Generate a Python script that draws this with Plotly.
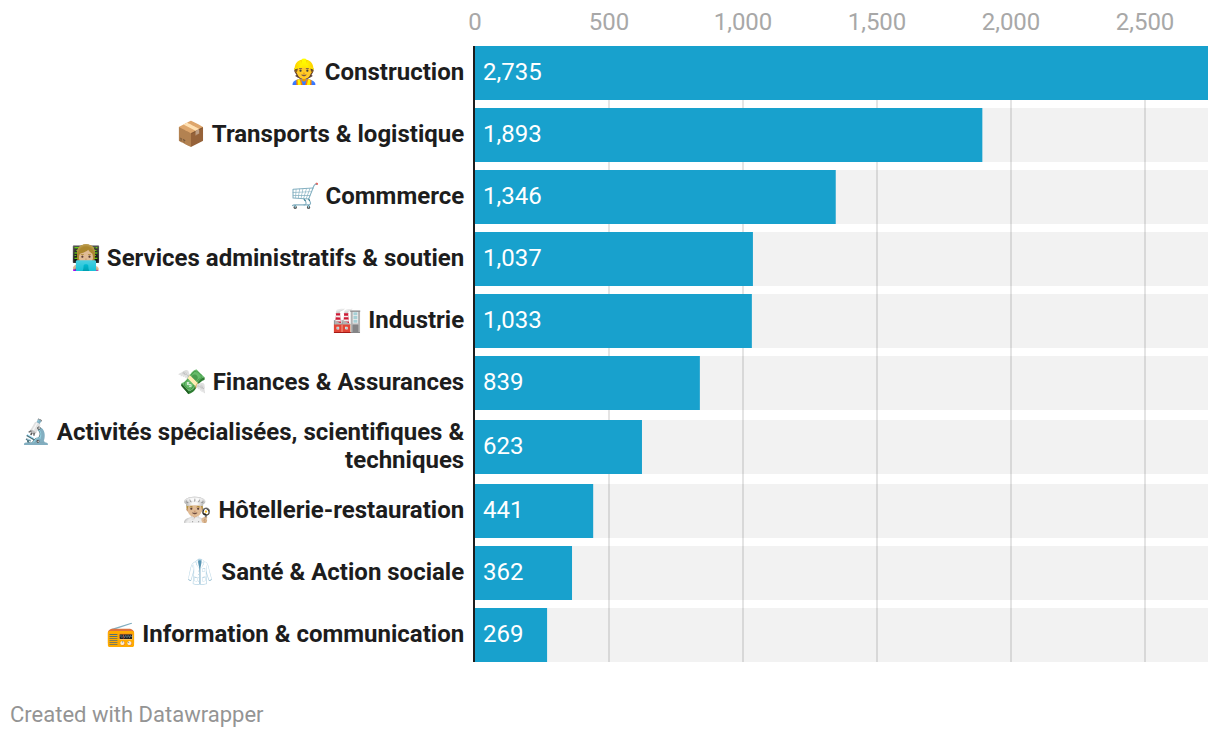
import plotly.graph_objects as go

category_lines = [["👷 Construction"], ["📦 Transports & logistique"], ["🛒 Commmerce"],
                  ["👩🏼‍💻 Services administratifs & soutien"], ["🏭 Industrie"],
                  ["💸 Finances & Assurances"],
                  ["🔬 Activités spécialisées, scientifiques &", "techniques"],
                  ["👨🏼‍🍳 Hôtellerie-restauration"], ["🥼 Santé & Action sociale"],
                  ["📻 Information & communication"]]
values = [2735, 1893, 1346, 1037, 1033, 839, 623, 441, 362, 269]
value_labels = ["2,735", "1,893", "1,346", "1,037", "1,033", "839", "623", "441", "362", "269"]
x_ticks = [0, 500, 1000, 1500, 2000, 2500]
x_tick_labels = ["0", "500", "1,000", "1,500", "2,000", "2,500"]

BLUE = "#18a1cd"
FONT = "Roboto"
PITCH = 62
BAR = 54
WRAP_EXTRA = 2
LINE_GAP = 28

# row centres, in pixels from the top; a wrapped label adds room on both sides
rows = []
tick_pos = []
tick_text = []
pos = BAR / 2
for lines in category_lines:
    wrapped = len(lines) > 1
    if wrapped:
        pos += WRAP_EXTRA
    rows.append(pos)
    for j, line in enumerate(lines):
        tick_pos.append(pos + (j - (len(lines) - 1) / 2) * LINE_GAP)
        tick_text.append(line)
    pos += PITCH
    if wrapped:
        pos += WRAP_EXTRA

max_value = max(values)
fig = go.Figure()
fig.add_bar(y=rows, x=[max_value] * len(values), orientation="h", width=BAR,
            marker=dict(color="rgba(0,0,0,0.05)", line_width=0), hoverinfo="skip")
fig.add_bar(y=rows, x=values, orientation="h", width=BAR,
            marker=dict(color=BLUE, line_width=0))

for r, lab in zip(rows, value_labels):
    fig.add_annotation(x=0, y=r, text=lab, showarrow=False, xanchor="left", yanchor="middle",
                       xshift=6.3, yshift=1, font=dict(family=FONT, size=24, color="white", weight=400))

fig.add_annotation(xref="paper", yref="paper", x=-467 / 733, y=-52 / 616, text="Created with Datawrapper",
                   showarrow=False, xanchor="left", yanchor="middle",
                   font=dict(family=FONT, size=22, color="#949494", weight=400))

fig.update_layout(
    width=1204, height=722, autosize=False, barmode="overlay", showlegend=False,
    plot_bgcolor="white", paper_bgcolor="white",
    margin=dict(l=467, r=4, t=38, b=68, autoexpand=False),
    xaxis=dict(side="top", range=[0, max_value], tickvals=x_ticks, ticktext=x_tick_labels,
               showgrid=True, gridcolor="#e4e4e4", gridwidth=2, zeroline=False,
               showline=False, ticks="outside", ticklen=5, tickcolor="rgba(0,0,0,0)",
               tickfont=dict(family=FONT, size=24, color="#a8a8a8", weight=400)),
    yaxis=dict(range=[pos - PITCH + BAR / 2, 0], tickvals=tick_pos, ticktext=tick_text,
               showgrid=False, zeroline=False, showline=True, linecolor="#1d1d1d", linewidth=2,
               ticks="outside", ticklen=4, tickcolor="rgba(0,0,0,0)", ticklabelshift=1,
               tickfont=dict(family=FONT, size=24, color="#1d1d1d", weight=700)),
)
fig.write_html("out.html", config={"displayModeBar": False})
